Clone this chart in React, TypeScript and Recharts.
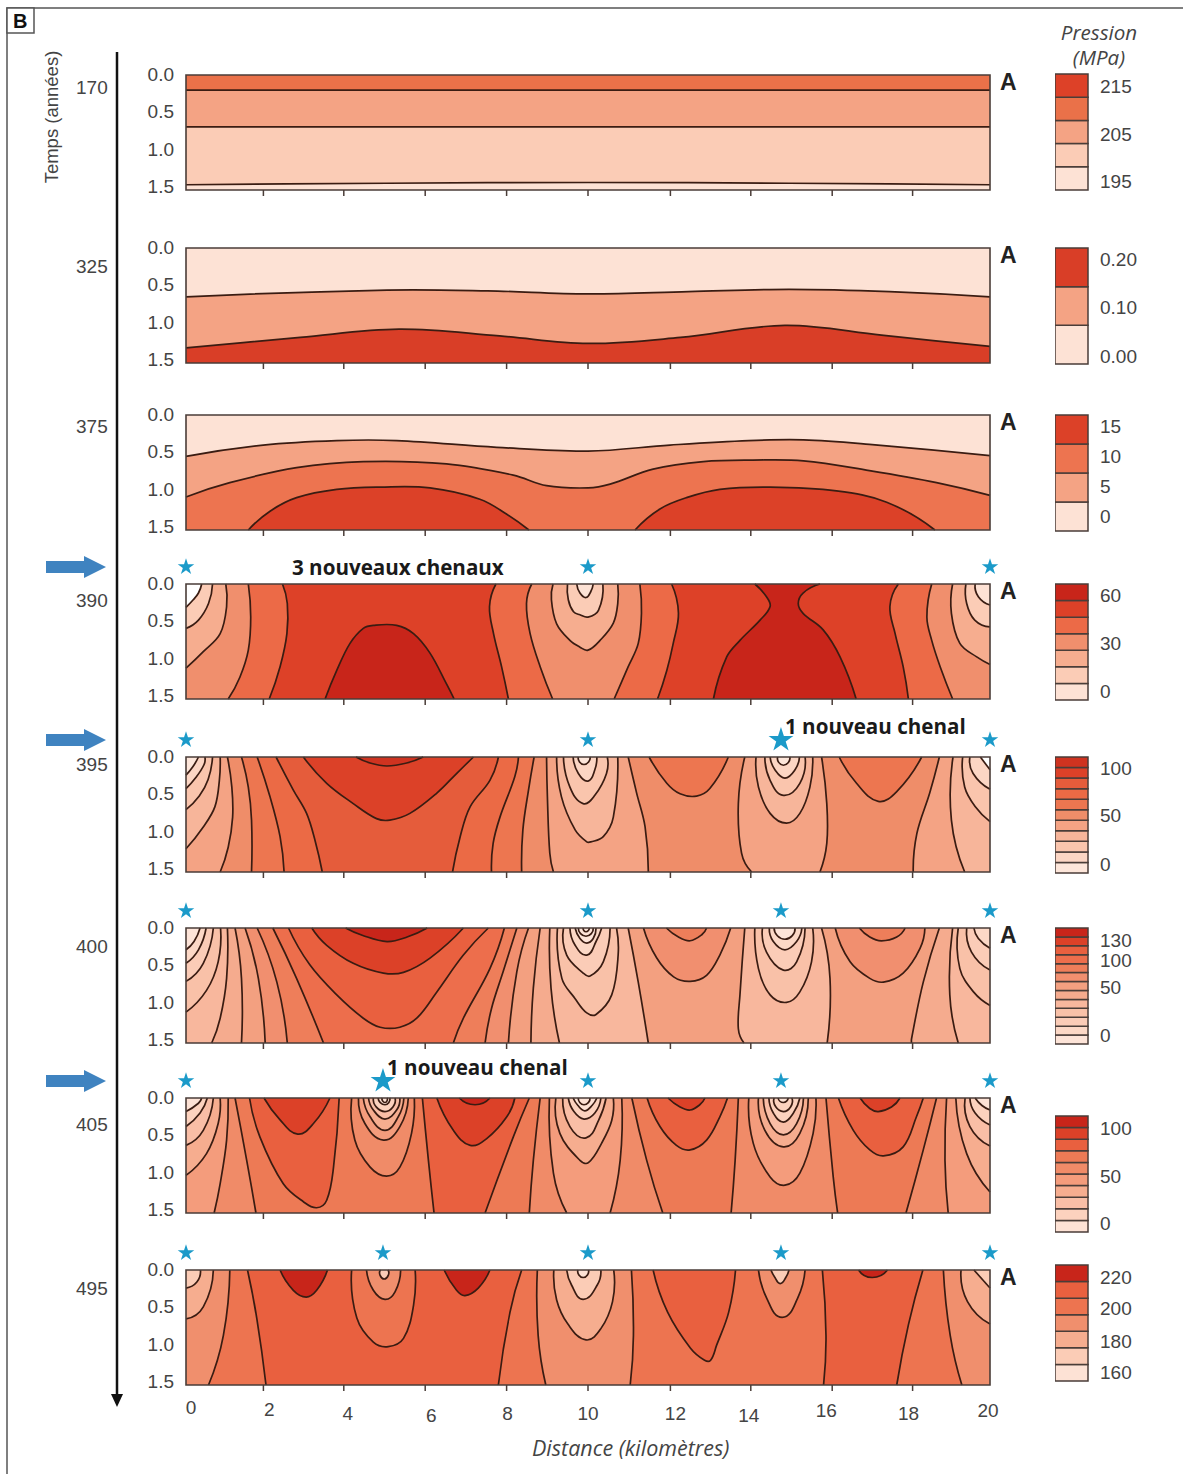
import { Bar, BarChart, Scatter, ScatterChart, Symbols, XAxis, YAxis } from 'recharts'

type Side = 'U' | 'R' | 'B' | 'TL' | 'TR'
type Contour = [Side, number, number[][]]

// side: U = closes straight on itself, R = everything right of a top-to-bottom line,
// B = everything below a left-to-right line, TL / TR = top corners
const YMAX = 1.53
const KM_TICKS = [2, 4, 6, 8, 10, 12, 14, 16, 18]
const KM_LABELS = [0, 2, 4, 6, 8, 10, 12, 14, 16, 18, 20]
const DEPTH_TICKS = [0, 0.5, 1, 1.5]
const YEARS = ['170', '325', '375', '390', '395', '400', '405', '495']

const P1_COLORS = ['#fde2d5', '#fbccb6', '#f4a384', '#ea7149', '#dd4128']
const P1_LEGEND = ['195', '205', '215']
const P1_LEGEND_AT = [0.34, 2.37, 4.44]
const P1_BASE = 3
const P1_CONTOURS: Contour[] = [
  ['B', 2, [[0, 0.2], [20, 0.2]]],
  ['B', 1, [[0, 0.69], [20, 0.69]]],
  ['B', 0, [[0, 1.46], [5, 1.44], [10, 1.43], [15, 1.44], [20, 1.46]]],
]

const P2_COLORS = ['#fde2d5', '#f4a384', '#d93e27']
const P2_LEGEND = ['0.00', '0.10', '0.20']
const P2_LEGEND_AT = [0.18, 1.45, 2.68]
const P2_BASE = 0
const P2_CONTOURS: Contour[] = [
  ['B', 1, [[0, 0.65], [5, 0.56], [7.5, 0.57], [10, 0.61], [12.5, 0.58], [15, 0.55], [17.5, 0.58], [20, 0.65]]],
  ['B', 2, [[0, 1.33], [2.84, 1.19], [5.3, 1.08], [7.8, 1.17], [10, 1.27], [12.3, 1.19], [14.9, 1.03], [17.3, 1.16], [20, 1.31]]],
]

const P3_COLORS = ['#fde2d5', '#f4a384', '#ed7450', '#dc4128']
const P3_LEGEND = ['0', '5', '10', '15']
const P3_LEGEND_AT = [0.49, 1.5, 2.54, 3.58]
const P3_BASE = 0
const P3_CONTOURS: Contour[] = [
  ['B', 1, [[0, 0.55], [1.92, 0.4], [3.75, 0.34], [5.24, 0.34], [7.73, 0.43], [10, 0.48], [12.04, 0.4], [14, 0.34], [15.36, 0.33], [17, 0.39], [20, 0.54]]],
  ['B', 2, [[0, 1.09], [1.09, 0.9], [2.75, 0.7], [4.41, 0.62], [6.48, 0.65], [8.14, 0.8], [8.97, 0.94], [10, 0.97], [10.55, 0.92], [11.62, 0.72], [12.87, 0.62], [14.1, 0.6], [15.36, 0.61], [17, 0.74], [18.67, 0.9], [20, 1.07]]],
  ['U', 3, [[1.55, 1.53], [2.09, 1.28], [2.75, 1.1], [3.75, 0.99], [4.83, 0.96], [6.07, 0.97], [7.31, 1.12], [7.98, 1.32], [8.53, 1.53]]],
  ['U', 3, [[11.17, 1.53], [11.79, 1.25], [12.45, 1.1], [13.28, 0.99], [14.53, 0.96], [16.18, 1.01], [17.43, 1.16], [18.63, 1.53]]],
]

const P4_COLORS = ['#fde2d5', '#fbccb6', '#f6ad8f', '#f08f6d', '#ec6a47', '#dd4128', '#c8251a']
const P4_LEGEND = ['0', '30', '60']
const P4_LEGEND_AT = [0.49, 3.35, 6.27]
const P4_BASE = 3
const P4_WELLS = [0, 10, 20]
const P4_CONTOURS: Contour[] = [
  ['R', 4, [[1.55, 0], [1.61, 0.44], [1.55, 0.88], [1.34, 1.24], [1.05, 1.53]]],
  ['R', 5, [[2.4, 0], [2.52, 0.26], [2.51, 0.66], [2.34, 1.1], [2.07, 1.53]]],
  ['U', 6, [[3.46, 1.53], [3.75, 1.15], [4.08, 0.79], [4.41, 0.59], [4.66, 0.55], [5.24, 0.55], [5.66, 0.66], [6.07, 0.92], [6.48, 1.33], [6.67, 1.53]]],
  ['R', 4, [[7.71, 0], [7.55, 0.3], [7.65, 0.66], [7.85, 1.1], [8.02, 1.53]]],
  ['R', 3, [[8.6, 0], [8.47, 0.26], [8.56, 0.66], [8.81, 1.1], [9.12, 1.53]]],
  ['U', 2, [[9.13, 0], [9.09, 0.21], [9.22, 0.53], [9.55, 0.75], [9.8, 0.84], [10, 0.88], [10.3, 0.75], [10.63, 0.52], [10.74, 0.26], [10.74, 0]]],
  ['U', 1, [[9.49, 0], [9.51, 0.21], [9.64, 0.37], [9.8, 0.41], [10, 0.44], [10.26, 0.35], [10.37, 0]]],
  ['U', 0, [[9.72, 0], [9.8, 0.12], [9.95, 0.18], [10.07, 0.1], [10.13, 0]]],
  ['R', 4, [[11.29, 0], [11.33, 0.39], [11.25, 0.79], [11, 1.1], [10.65, 1.53]]],
  ['R', 5, [[12.08, 0], [12.25, 0.39], [12.12, 0.79], [11.96, 1.15], [11.73, 1.53]]],
  ['R', 6, [[14.15, 0], [14.44, 0.17], [14.53, 0.3], [14.28, 0.48], [13.78, 0.75], [13.45, 0.97], [13.12, 1.53]]],
  ['R', 5, [[15.77, 0], [15.35, 0.12], [15.23, 0.26], [15.35, 0.39], [15.85, 0.61], [16.27, 0.97], [16.67, 1.53]]],
  ['R', 4, [[17.72, 0], [17.51, 0.3], [17.64, 0.66], [17.84, 1.1], [17.97, 1.53]]],
  ['R', 3, [[18.55, 0], [18.43, 0.44], [18.55, 0.75], [18.76, 1.1], [19.07, 1.53]]],
  ['TR', 2, [[19.07, 0], [19.04, 0.39], [19.25, 0.79], [19.67, 0.97], [20, 1.07]]],
  ['TR', 1, [[19.4, 0], [19.42, 0.26], [19.62, 0.48], [20, 0.57]]],
  ['TR', 0, [[19.63, 0], [19.71, 0.17], [20, 0.28]]],
  ['TL', 2, [[0, 1.12], [0.43, 0.9], [0.85, 0.66], [1.01, 0.3], [0.99, 0]]],
  ['TL', 1, [[0, 0.59], [0.31, 0.48], [0.56, 0.26], [0.66, 0]]],
  ['TL', -1, [[0, 0.31], [0.18, 0.21], [0.31, 0.12], [0.39, 0]]],
]

const P5_COLORS = ['#fde6da', '#fcd6c4', '#fac5ad', '#f7b59a', '#f4a384', '#ef8d69', '#ed7650', '#eb6a45', '#e55c3b', '#dc4128', '#cf3320']
const P5_LEGEND = ['0', '50', '100']
const P5_LEGEND_AT = [0.77, 5.36, 9.86]
const P5_BASE = 4
const P5_WELLS = [0, 10, 20]
const P5_NEW_WELLS = [14.8]
const P5_CONTOURS: Contour[] = [
  ['R', 5, [[1.03, 0], [1.14, 0.4], [1.16, 0.8], [1.05, 1.2], [0.85, 1.53]]],
  ['R', 6, [[1.38, 0], [1.55, 0.4], [1.63, 0.84], [1.63, 1.53]]],
  ['R', 7, [[1.77, 0], [2.09, 0.53], [2.34, 1.06], [2.44, 1.53]]],
  ['R', 8, [[2.24, 0], [2.67, 0.44], [3, 0.75], [3.21, 1.11], [3.39, 1.53]]],
  ['U', 9, [[2.92, 0], [3.5, 0.35], [4.16, 0.62], [4.74, 0.82], [5.07, 0.84], [5.57, 0.75], [6.24, 0.48], [6.73, 0.22], [7.15, 0]]],
  ['U', 10, [[4.23, 0], [4.58, 0.08], [5, 0.12], [5.49, 0.08], [5.9, 0]]],
  ['R', 7, [[7.77, 0], [7.56, 0.31], [7.07, 0.66], [6.82, 1.06], [6.63, 1.53]]],
  ['R', 6, [[8.27, 0], [8.18, 0.26], [7.81, 0.8], [7.64, 1.15], [7.6, 1.53]]],
  ['R', 5, [[8.66, 0], [8.52, 0.44], [8.38, 0.97], [8.35, 1.53]]],
  ['R', 4, [[8.97, 0], [8.99, 0.53], [9.05, 1.28], [9.14, 1.53]]],
  ['U', 3, [[9.22, 0], [9.34, 0.53], [9.68, 0.97], [9.97, 1.13], [10.07, 1.13], [10.38, 1.06], [10.63, 0.8], [10.74, 0]]],
  ['U', 2, [[9.39, 0], [9.55, 0.4], [9.88, 0.62], [10.17, 0.51], [10.46, 0.22], [10.48, 0]]],
  ['U', 1, [[9.63, 0], [9.76, 0.22], [10, 0.32], [10.17, 0.17], [10.22, 0]]],
  ['U', 0, [[9.76, 0], [9.9, 0.1], [10.05, 0]]],
  ['R', 5, [[11, 0], [11.21, 0.48], [11.42, 0.93], [11.5, 1.53]]],
  ['U', 6, [[11.52, 0], [11.96, 0.35], [12.29, 0.49], [12.7, 0.52], [13.03, 0.42], [13.49, 0]]],
  ['R', 4, [[13.9, 0], [13.74, 0.62], [13.82, 1.28], [14.07, 1.53]]],
  ['U', 3, [[14.18, 0], [14.24, 0.4], [14.53, 0.75], [14.94, 0.88], [15.27, 0.75], [15.52, 0.4], [15.59, 0]]],
  ['U', 2, [[14.4, 0], [14.53, 0.31], [14.86, 0.51], [15.27, 0.35], [15.4, 0]]],
  ['U', 1, [[14.53, 0], [14.65, 0.17], [14.9, 0.28], [15.15, 0.17], [15.26, 0]]],
  ['U', 0, [[14.72, 0], [14.86, 0.11], [15.02, 0]]],
  ['R', 5, [[15.81, 0], [15.94, 0.62], [15.94, 1.15], [15.77, 1.53]]],
  ['U', 6, [[16.25, 0], [16.68, 0.35], [17.22, 0.59], [17.68, 0.46], [18.3, 0]]],
  ['R', 4, [[18.74, 0], [18.5, 0.48], [18.18, 1.02], [18.09, 1.53]]],
  ['R', 3, [[19.08, 0], [19.04, 0.84], [19.37, 1.53]]],
  ['TR', 2, [[19.32, 0], [19.37, 0.4], [19.63, 0.66], [20, 0.86]]],
  ['TR', 1, [[19.5, 0], [19.58, 0.22], [20, 0.43]]],
  ['TR', -1, [[19.76, 0], [20, 0.17]]],
  ['TL', 3, [[0, 1.22], [0.43, 0.93], [0.72, 0.66], [0.83, 0.31], [0.85, 0]]],
  ['TL', 2, [[0, 0.7], [0.33, 0.52], [0.55, 0.3], [0.66, 0]]],
  ['TL', 1, [[0, 0.42], [0.25, 0.27], [0.45, 0.1], [0.47, 0]]],
  ['TL', 0, [[0, 0.24], [0.17, 0.13], [0.31, 0]]],
]

const P6_COLORS = ['#fde4d8', '#fcd8c6', '#fbccb7', '#f9c1a8', '#f8b79d', '#f5ab8e', '#f3a080', '#f18f6f', '#ee7e5a', '#ed6e4c', '#e9603f', '#dc4128', '#c8251a']
const P6_LEGEND = ['0', '50', '100', '130']
const P6_LEGEND_AT = [0.9, 6.2, 9.24, 11.5]
const P6_BASE = 4
const P6_WELLS = [0, 10, 14.8, 20]
const P6_CONTOURS: Contour[] = [
  ['R', 5, [[1.03, 0], [1.01, 0.67], [0.85, 1.2], [0.64, 1.53]]],
  ['R', 6, [[1.22, 0], [1.38, 0.67], [1.38, 1.53]]],
  ['R', 7, [[1.47, 0], [1.8, 0.67], [1.97, 1.53]]],
  ['R', 8, [[1.77, 0], [2.26, 0.72], [2.52, 1.53]]],
  ['R', 9, [[2.16, 0], [2.75, 0.67], [3.42, 1.53]]],
  ['U', 10, [[2.55, 0], [3.08, 0.49], [3.75, 0.89], [4.41, 1.2], [4.83, 1.32], [5.32, 1.32], [5.74, 1.2], [6.24, 0.85], [6.9, 0.36], [7.52, 0]]],
  ['U', 11, [[3.13, 0], [3.5, 0.23], [4.16, 0.47], [4.91, 0.6], [5.41, 0.59], [6.07, 0.4], [6.9, 0]]],
  ['U', 12, [[3.97, 0], [4.4, 0.1], [5, 0.18], [5.5, 0.12], [6, 0]]],
  ['R', 8, [[7.92, 0], [7.56, 0.54], [6.9, 1.2], [6.65, 1.53]]],
  ['R', 7, [[8.23, 0], [7.89, 0.58], [7.6, 1.07], [7.44, 1.53]]],
  ['R', 6, [[8.52, 0], [8.23, 0.58], [8.02, 1.53]]],
  ['R', 5, [[8.81, 0], [8.64, 0.8], [8.58, 1.53]]],
  ['R', 4, [[9.05, 0], [9.08, 0.8], [9.29, 1.53]]],
  ['U', 3, [[9.24, 0], [9.35, 0.67], [9.68, 0.94], [9.97, 1.13], [10.2, 1.15], [10.59, 0.89], [10.75, 0.36], [10.71, 0]]],
  ['U', 2, [[9.39, 0], [9.47, 0.36], [9.88, 0.6], [10.05, 0.64], [10.38, 0.45], [10.55, 0]]],
  ['U', 1, [[9.55, 0], [9.68, 0.23], [9.97, 0.36], [10.2, 0.18], [10.34, 0]]],
  ['U', 0, [[9.68, 0], [9.8, 0.14], [9.97, 0.2], [10.13, 0.14], [10.2, 0]]],
  ['U', 0, [[9.76, 0], [9.95, 0.11], [10.13, 0]]],
  ['U', 0, [[9.88, 0], [9.95, 0.05], [10.03, 0]]],
  ['R', 6, [[11, 0], [11.25, 0.72], [11.5, 1.53]]],
  ['U', 7, [[11.38, 0], [11.71, 0.4], [12.13, 0.65], [12.54, 0.71], [12.95, 0.63], [13.28, 0.36], [13.55, 0]]],
  ['U', 8, [[11.95, 0], [12.25, 0.12], [12.54, 0.17], [12.83, 0.09], [12.95, 0]]],
  ['R', 4, [[13.9, 0], [13.78, 0.89], [13.74, 1.34], [13.88, 1.53]]],
  ['U', 3, [[14.15, 0], [14.24, 0.54], [14.53, 0.89], [14.94, 0.99], [15.27, 0.85], [15.56, 0.45], [15.59, 0]]],
  ['U', 2, [[14.34, 0], [14.44, 0.32], [14.86, 0.56], [15.19, 0.45], [15.4, 0]]],
  ['U', 1, [[14.51, 0], [14.61, 0.18], [14.9, 0.29], [15.19, 0.18], [15.32, 0]]],
  ['U', 0, [[14.63, 0], [14.9, 0.15], [15.15, 0]]],
  ['R', 6, [[15.81, 0], [16.02, 0.67], [15.95, 1.53]]],
  ['U', 7, [[16.15, 0], [16.52, 0.45], [17.01, 0.67], [17.35, 0.72], [17.84, 0.6], [18.26, 0.27], [18.38, 0]]],
  ['U', 8, [[16.75, 0], [17.01, 0.12], [17.3, 0.17], [17.68, 0.12], [17.89, 0]]],
  ['R', 5, [[18.74, 0], [18.34, 0.72], [18.05, 1.47], [18.05, 1.53]]],
  ['R', 4, [[19.07, 0], [19, 0.89], [19.21, 1.53]]],
  ['TR', 3, [[19.21, 0], [19.25, 0.54], [19.59, 0.85], [20, 1.03]]],
  ['TR', 2, [[19.42, 0], [19.54, 0.32], [20, 0.56]]],
  ['TR', 1, [[19.6, 0], [19.71, 0.14], [20, 0.27]]],
  ['TL', 3, [[0, 1.12], [0.51, 0.83], [0.8, 0.45], [0.86, 0]]],
  ['TL', 2, [[0, 0.71], [0.43, 0.47], [0.68, 0]]],
  ['TL', 1, [[0, 0.47], [0.31, 0.29], [0.5, 0]]],
  ['TL', 0, [[0, 0.29], [0.2, 0.18], [0.35, 0]]],
]

const P7_COLORS = ['#fde2d5', '#fcd2be', '#f9bea6', '#f6ad8f', '#f49c7c', '#f08b68', '#ed7a55', '#e9603f', '#dc4128', '#c8251a']
const P7_LEGEND = ['0', '50', '100']
const P7_LEGEND_AT = [0.69, 4.74, 8.9]
const P7_BASE = 4
const P7_WELLS = [0, 10, 14.8, 20]
const P7_NEW_WELLS = [4.9]
const P7_CONTOURS: Contour[] = [
  ['R', 5, [[1.05, 0], [1.01, 0.56], [0.85, 1.14], [0.7, 1.53]]],
  ['R', 6, [[1.22, 0], [1.51, 0.83], [1.74, 1.53]]],
  ['U', 7, [[1.58, 0], [1.84, 0.52], [2.42, 1.14], [2.92, 1.38], [3.25, 1.46], [3.5, 1.36], [3.67, 0.92], [3.81, 0]]],
  ['U', 8, [[1.94, 0], [2.34, 0.29], [2.78, 0.48], [3.17, 0.34], [3.58, 0]]],
  ['U', 5, [[4.12, 0], [4.2, 0.56], [4.58, 0.92], [4.99, 1.04], [5.32, 0.92], [5.61, 0.47], [5.68, 0]]],
  ['U', 4, [[4.29, 0], [4.45, 0.34], [4.91, 0.56], [5.32, 0.38], [5.53, 0]]],
  ['U', 3, [[4.41, 0], [4.58, 0.25], [4.95, 0.43], [5.28, 0.25], [5.42, 0]]],
  ['U', 2, [[4.54, 0], [4.66, 0.16], [4.95, 0.28], [5.24, 0.16], [5.32, 0]]],
  ['U', 1, [[4.66, 0], [4.95, 0.18], [5.2, 0]]],
  ['U', 0, [[4.78, 0], [4.95, 0.09], [5.07, 0]]],
  ['U', 0, [[4.88, 0], [4.95, 0.06], [5, 0]]],
  ['R', 7, [[5.88, 0], [6.03, 0.83], [6.17, 1.53]]],
  ['U', 8, [[6.24, 0], [6.65, 0.43], [7.07, 0.63], [7.48, 0.54], [7.98, 0.25], [8.18, 0]]],
  ['U', 9, [[6.8, 0], [7.19, 0.09], [7.56, 0]]],
  ['R', 6, [[8.54, 0], [8.14, 0.52], [7.44, 1.53]]],
  ['R', 5, [[8.81, 0], [8.64, 0.83], [8.54, 1.53]]],
  ['R', 4, [[9.04, 0], [9.14, 1], [9.47, 1.53]]],
  ['U', 3, [[9.2, 0], [9.3, 0.47], [9.8, 0.83], [10.01, 0.86], [10.34, 0.6], [10.59, 0.3], [10.63, 0]]],
  ['U', 2, [[9.37, 0], [9.55, 0.38], [9.95, 0.53], [10.26, 0.3], [10.45, 0]]],
  ['U', 1, [[9.51, 0], [9.65, 0.18], [9.9, 0.28], [10.17, 0.2], [10.32, 0]]],
  ['U', 0, [[9.63, 0], [9.75, 0.1], [9.92, 0.17], [10.1, 0.1], [10.22, 0]]],
  ['U', 0, [[9.76, 0], [9.9, 0.09], [10.05, 0]]],
  ['R', 5, [[10.84, 0], [10.8, 0.83], [10.55, 1.53]]],
  ['R', 6, [[11.09, 0], [11.46, 0.83], [11.86, 1.53]]],
  ['U', 7, [[11.47, 0], [11.79, 0.38], [12.2, 0.63], [12.54, 0.69], [12.95, 0.56], [13.28, 0.25], [13.47, 0]]],
  ['U', 8, [[11.99, 0], [12.29, 0.12], [12.54, 0.16], [12.78, 0.09], [12.91, 0]]],
  ['R', 5, [[13.74, 0], [13.66, 0.83], [13.56, 1.53]]],
  ['U', 4, [[14, 0], [14.11, 0.6], [14.53, 1.05], [14.9, 1.16], [15.27, 1], [15.6, 0.47], [15.67, 0]]],
  ['U', 3, [[14.24, 0], [14.4, 0.43], [14.86, 0.65], [15.27, 0.47], [15.48, 0]]],
  ['U', 2, [[14.36, 0], [14.53, 0.34], [14.86, 0.49], [15.19, 0.34], [15.36, 0]]],
  ['U', 1, [[14.5, 0], [14.61, 0.2], [14.86, 0.32], [15.11, 0.2], [15.27, 0]]],
  ['U', 1, [[14.63, 0], [14.86, 0.18], [15.07, 0]]],
  ['U', 0, [[14.73, 0], [14.86, 0.06], [14.98, 0]]],
  ['R', 6, [[15.92, 0], [16.1, 1.05], [16.21, 1.53]]],
  ['U', 7, [[16.23, 0], [16.6, 0.43], [17.01, 0.69], [17.35, 0.77], [17.84, 0.65], [18.17, 0.25], [18.34, 0]]],
  ['U', 8, [[16.77, 0], [17.01, 0.14], [17.22, 0.18], [17.55, 0.12], [17.76, 0]]],
  ['R', 5, [[18.67, 0], [18.34, 0.69], [17.91, 1.53]]],
  ['R', 4, [[18.92, 0], [18.88, 0.83], [18.96, 1.53]]],
  ['TR', 3, [[19.15, 0], [19.42, 0.74], [20, 1.25]]],
  ['TR', 2, [[19.38, 0], [19.5, 0.38], [20, 0.64]]],
  ['TR', 1, [[19.5, 0], [19.63, 0.2], [20, 0.36]]],
  ['TR', 0, [[19.63, 0], [19.8, 0.1], [20, 0.16]]],
  ['TL', 3, [[0, 1.03], [0.51, 0.74], [0.8, 0.34], [0.85, 0]]],
  ['TL', 2, [[0, 0.63], [0.43, 0.43], [0.68, 0]]],
  ['TL', 1, [[0, 0.38], [0.35, 0.2], [0.53, 0]]],
  ['TL', 0, [[0, 0.18], [0.31, 0.07], [0.39, 0]]],
]

const P8_COLORS = ['#fde2d5', '#fbccb6', '#f6ad8f', '#f08f6d', '#ed7450', '#e9603f', '#c8251a']
const P8_LEGEND = ['160', '180', '200', '220']
const P8_LEGEND_AT = [0.48, 2.35, 4.34, 6.2]
const P8_BASE = 3
const P8_WELLS = [0, 4.9, 10, 14.8, 20]
const P8_CONTOURS: Contour[] = [
  ['R', 4, [[1.09, 0], [0.93, 0.87], [0.56, 1.53]]],
  ['R', 5, [[1.53, 0], [1.76, 0.64], [1.99, 1.53]]],
  ['U', 6, [[2.34, 0], [2.67, 0.27], [2.99, 0.36], [3.25, 0.27], [3.52, 0]]],
  ['U', 4, [[4.12, 0], [4.25, 0.64], [4.66, 0.96], [5.03, 1.02], [5.41, 0.91], [5.66, 0.47], [5.7, 0]]],
  ['U', 3, [[4.49, 0], [4.66, 0.27], [4.95, 0.39], [5.2, 0.29], [5.34, 0]]],
  ['U', 1, [[4.84, 0], [4.93, 0.12], [5.02, 0]]],
  ['U', 6, [[6.42, 0], [6.73, 0.27], [6.94, 0.34], [7.27, 0.24], [7.56, 0]]],
  ['R', 4, [[8.35, 0], [8.06, 0.56], [7.77, 1.53]]],
  ['R', 3, [[8.74, 0], [8.76, 0.87], [8.95, 1.53]]],
  ['U', 2, [[9.15, 0], [9.22, 0.4], [9.5, 0.72], [9.95, 0.93], [10.32, 0.78], [10.61, 0.42], [10.64, 0]]],
  ['U', 1, [[9.47, 0], [9.59, 0.2], [9.88, 0.39], [10.23, 0.2], [10.32, 0]]],
  ['U', 0, [[9.75, 0], [9.88, 0.1], [10.01, 0]]],
  ['R', 4, [[11.08, 0], [11.13, 0.87], [11.05, 1.53]]],
  ['U', 5, [[11.62, 0], [11.98, 0.56], [12.55, 1.04], [12.9, 1.2], [13.05, 1.2], [13.2, 1], [13.5, 0.56], [13.67, 0]]],
  ['U', 3, [[14.24, 0], [14.45, 0.38], [14.83, 0.63], [15.21, 0.38], [15.4, 0]]],
  ['U', 1, [[14.55, 0], [14.65, 0.1], [14.78, 0.18], [14.92, 0.1], [15, 0]]],
  ['R', 5, [[15.83, 0], [15.92, 0.87], [15.86, 1.53]]],
  ['U', 6, [[16.73, 0], [17.07, 0.1], [17.45, 0]]],
  ['R', 4, [[18.33, 0], [17.97, 0.73], [17.68, 1.53]]],
  ['R', 3, [[18.84, 0], [19.01, 0.87], [19.3, 1.53]]],
  ['TR', 2, [[19.28, 0], [19.44, 0.42], [20, 0.72]]],
  ['TR', 1, [[19.6, 0], [20, 0.24]]],
  ['TL', 2, [[0, 0.65], [0.43, 0.49], [0.68, 0]]],
  ['TL', 1, [[0, 0.24], [0.27, 0.16], [0.36, 0]]],
]

// layout only, px on the page
const PANEL_TOPS = [75, 248, 415, 584, 757, 928, 1098, 1270]
const YEAR_Y = [87, 266, 426, 600, 764, 946, 1124, 1288]
const LEGEND_TOPS = [74, 248, 415, 584, 757, 928, 1116, 1265]
const ARROW_Y = [567, 740, 1081]
const TICK_NUDGE = [-3, -3, -2, -1, 0, 2, 2, 3, 3]
const LABEL_DX = [5, 3, 1, 4, 0, 0, 7, 0, -3, -1, -2]
const LABEL_DY = [22, 24, 28, 30, 28, 28, 28, 30, 25, 28, 25]

const PANELS = [
  { colors: P1_COLORS, base: P1_BASE, contours: P1_CONTOURS, legend: P1_LEGEND, legendAt: P1_LEGEND_AT, wells: [] as number[], newWells: [] as number[] },
  { colors: P2_COLORS, base: P2_BASE, contours: P2_CONTOURS, legend: P2_LEGEND, legendAt: P2_LEGEND_AT, wells: [], newWells: [] },
  { colors: P3_COLORS, base: P3_BASE, contours: P3_CONTOURS, legend: P3_LEGEND, legendAt: P3_LEGEND_AT, wells: [], newWells: [] },
  { colors: P4_COLORS, base: P4_BASE, contours: P4_CONTOURS, legend: P4_LEGEND, legendAt: P4_LEGEND_AT, wells: P4_WELLS, newWells: [] },
  { colors: P5_COLORS, base: P5_BASE, contours: P5_CONTOURS, legend: P5_LEGEND, legendAt: P5_LEGEND_AT, wells: P5_WELLS, newWells: P5_NEW_WELLS },
  { colors: P6_COLORS, base: P6_BASE, contours: P6_CONTOURS, legend: P6_LEGEND, legendAt: P6_LEGEND_AT, wells: P6_WELLS, newWells: [] },
  { colors: P7_COLORS, base: P7_BASE, contours: P7_CONTOURS, legend: P7_LEGEND, legendAt: P7_LEGEND_AT, wells: P7_WELLS, newWells: P7_NEW_WELLS },
  { colors: P8_COLORS, base: P8_BASE, contours: P8_CONTOURS, legend: P8_LEGEND, legendAt: P8_LEGEND_AT, wells: P8_WELLS, newWells: [] },
]

const SANS = '"Liberation Sans", Arial, sans-serif'
const TITLE = '"Open Sans", sans-serif'
const INK = '#444'
const LINE = '#3a1c12'
const FRAME = '#4a3d38'
const STAR = '#1b9ac9'
const BLUE = '#3f83c0'

const CLOSURE: Record<Side, number[][]> = {
  U: [],
  R: [[20, YMAX], [20, 0]],
  B: [[20, YMAX], [0, YMAX]],
  TL: [[0, 0]],
  TR: [[20, 0]],
}

const toXY = (pts: number[][]) => pts.map(([x, y]) => ({ x, y }))

type Pt = { x: number; y: number }
const unit = (a: Pt, b: Pt) => {
  const dx = b.x - a.x
  const dy = b.y - a.y
  const len = Math.hypot(dx, dy) || 1
  return { x: dx / len, y: dy / len }
}

// spline through the scaled points: handles follow the neighbours' direction,
// sized by each segment's own length, so uneven spacing does not kink the line
function smooth(pts: Pt[]) {
  const n = pts.length
  let d = `M${pts[0].x},${pts[0].y}`
  if (n === 2) return d + `L${pts[1].x},${pts[1].y}`
  const dirs: Pt[] = pts.map((_, i) => (i > 0 && i < n - 1 ? unit(pts[i - 1], pts[i + 1]) : { x: 0, y: 0 }))
  // ends: mirror the next tangent about the chord
  const reflect = (t: Pt, c: Pt) => {
    const dot = t.x * c.x + t.y * c.y
    return { x: 2 * dot * c.x - t.x, y: 2 * dot * c.y - t.y }
  }
  dirs[0] = reflect(dirs[1], unit(pts[0], pts[1]))
  dirs[n - 1] = reflect(dirs[n - 2], unit(pts[n - 2], pts[n - 1]))
  for (let i = 0; i < n - 1; i++) {
    const a = pts[i]
    const b = pts[i + 1]
    const h = Math.hypot(b.x - a.x, b.y - a.y) * 0.36
    d += `C${a.x + dirs[i].x * h},${a.y + dirs[i].y * h} ${b.x - dirs[i + 1].x * h},${b.y - dirs[i + 1].y * h} ${b.x},${b.y}`
  }
  return d
}

const NoDot = () => <g />

function contourLine(n: number, fill: string, stroked: boolean) {
  return (props: any) => {
    const curve = props.points.slice(0, n)
    const tail = props.points.slice(n).map((p: any) => `L${p.x},${p.y}`).join('')
    const d = smooth(curve)
    return (
      <g>
        <path d={d + tail + 'Z'} fill={fill} stroke="none" />
        {stroked && <path d={d} fill="none" stroke={LINE} strokeWidth={1.7} />}
      </g>
    )
  }
}

const frameLine = (props: any) => (
  <path
    d={props.points.map((p: any, i: number) => `${i ? 'L' : 'M'}${p.x},${p.y}`).join('') + 'Z'}
    fill="none"
    stroke={FRAME}
    strokeWidth={1.6}
  />
)

const Mark = ({ x, y, dir }: any) => <line x1={x} x2={x} y1={y} y2={y + dir * 6} stroke={FRAME} strokeWidth={1.5} />

function TopTick({ x, y, index }: any) {
  return <Mark x={x + TICK_NUDGE[index]} y={y} dir={-1} />
}
function BottomTick({ x, y, index }: any) {
  return <Mark x={x + TICK_NUDGE[index]} y={y} dir={1} />
}
function LabelTick({ x, y, index, payload }: any) {
  const inner = index > 0 && index < KM_LABELS.length - 1
  return (
    <g>
      {inner && <Mark x={x + TICK_NUDGE[index - 1]} y={y} dir={1} />}
      <text
        x={x + LABEL_DX[index]}
        y={y + LABEL_DY[index]}
        textAnchor="middle"
        dominantBaseline="central"
        fontSize={19}
        fontFamily={SANS}
        fill={INK}
      >
        {payload.value}
      </text>
    </g>
  )
}

function Panel({ index }: { index: number }) {
  const { colors, base, contours } = PANELS[index]
  const last = index === PANELS.length - 1
  const bottom = last ? 50 : 10
  const layers: Contour[] = [['B', base, [[0, 0], [20, 0]]], ...contours]
  return (
    <div style={{ position: 'absolute', left: 130, top: PANEL_TOPS[index] - 10 }}>
      <ScatterChart width={870} height={115 + 10 + bottom} margin={{ top: 0, right: 10, bottom: 0, left: 0 }}>
        <XAxis
          dataKey="x"
          type="number"
          domain={[0, 20]}
          ticks={last ? KM_LABELS : KM_TICKS}
          interval={0}
          height={bottom}
          axisLine={false}
          tickLine={false}
          tickSize={0}
          tickMargin={0}
          tick={last ? LabelTick : BottomTick}
        />
        <XAxis
          xAxisId="top"
          orientation="top"
          dataKey="x"
          type="number"
          domain={[0, 20]}
          ticks={KM_TICKS}
          interval={0}
          height={10}
          axisLine={false}
          tickLine={false}
          tickSize={0}
          tickMargin={0}
          tick={TopTick}
        />
        <YAxis
          dataKey="y"
          type="number"
          reversed
          domain={[0, YMAX]}
          ticks={DEPTH_TICKS}
          interval={0}
          width={56}
          axisLine={false}
          tickLine={false}
          tickSize={0}
          tickMargin={12}
          tickFormatter={(v: number) => v.toFixed(1)}
          tick={{ fontSize: 19, fontFamily: SANS, fill: INK, dy: -1 }}
        />
        {layers.map(([side, level, pts], i) => (
          <Scatter
            key={i}
            data={toXY([...pts, ...CLOSURE[side]])}
            line={contourLine(pts.length, colors[level] ?? '#ffffff', i > 0)}
            lineType="joint"
            shape={NoDot}
            isAnimationActive={false}
          />
        ))}
        <Scatter
          data={toXY([[0, 0], [20, 0], [20, YMAX], [0, YMAX]])}
          line={frameLine}
          lineType="joint"
          shape={NoDot}
          isAnimationActive={false}
        />
      </ScatterChart>
    </div>
  )
}

const WellStar = ({ cx, cy, size }: any) => <Symbols cx={cx} cy={cy} type="star" size={size} fill={STAR} />

function WellRow({ index }: { index: number }) {
  const { wells, newWells } = PANELS[index]
  if (!wells.length) return null
  return (
    <div style={{ position: 'absolute', left: 130, top: PANEL_TOPS[index] - 34 }}>
      <ScatterChart width={870} height={34} margin={{ top: 0, right: 10, bottom: 0, left: 56 }}>
        <XAxis dataKey="x" type="number" domain={[0, 20]} hide />
        <YAxis dataKey="y" type="number" domain={[0, 1]} hide />
        <Scatter data={wells.map((x) => ({ x, y: 0.5 }))} shape={(p: any) => <WellStar {...p} size={85} />} isAnimationActive={false} />
        <Scatter data={newWells.map((x) => ({ x, y: 0.5 }))} shape={(p: any) => <WellStar {...p} size={190} />} isAnimationActive={false} />
      </ScatterChart>
    </div>
  )
}

function LegendBar({ index }: { index: number }) {
  const { colors, legend, legendAt } = PANELS[index]
  const row: Record<string, any> = { name: 'p' }
  colors.forEach((_, i) => {
    row['k' + i] = 1
  })
  return (
    <div style={{ position: 'absolute', left: 1055, top: LEGEND_TOPS[index] - 10 }}>
      <BarChart width={110} height={136} data={[row]} barCategoryGap={0} margin={{ top: 10, right: 0, bottom: 10, left: 0 }}>
        <XAxis dataKey="name" hide />
        <YAxis
          orientation="right"
          type="number"
          domain={[0, colors.length]}
          ticks={legendAt}
          interval={0}
          width={77}
          axisLine={false}
          tickLine={false}
          tickSize={0}
          tickMargin={12}
          tickFormatter={(v: number) => legend[legendAt.indexOf(v)]}
          tick={{ fontSize: 19, fontFamily: SANS, fill: INK, textAnchor: 'start', dy: -1 }}
        />
        {colors.map((c, i) => (
          <Bar key={i} dataKey={'k' + i} stackId="s" fill={c} stroke={FRAME} strokeWidth={1.5} isAnimationActive={false} />
        ))}
      </BarChart>
    </div>
  )
}

function Note({ x, y, text, style }: { x: number; y: number; text: string; style?: any }) {
  return (
    <div style={{ position: 'absolute', left: x, top: y, transform: 'translateY(-50%)', lineHeight: 1, whiteSpace: 'nowrap', color: INK, ...style }}>
      {text}
    </div>
  )
}

const BOLD_NOTE = { fontFamily: TITLE, fontWeight: 700, fontSize: 20.6, color: '#1a1a1a' }
const ITALIC_NOTE = { fontFamily: TITLE, fontStyle: 'italic', fontSize: 20.6 }

export default function App() {
  return (
    <div style={{ position: 'absolute', left: 0, top: 0, width: 1183, height: 1474, background: '#fff', overflow: 'hidden' }}>
      <svg width={1183} height={1474} style={{ position: 'absolute', left: 0, top: 0 }}>
        <path d="M7,1474V8H1183" fill="none" stroke="#555" strokeWidth={1.5} />
        <rect x={7} y={8} width={27} height={25} fill="#fff" stroke="#555" strokeWidth={1.5} />
        <line x1={117} x2={117} y1={52} y2={1396} stroke="#111" strokeWidth={2.5} />
        <polygon points="111,1394 123,1394 117,1407" fill="#111" />
        {ARROW_Y.map((y) => (
          <polygon key={y} points={`46,${y - 6} 84,${y - 6} 84,${y - 11} 106,${y} 84,${y + 11} 84,${y + 6} 46,${y + 6}`} fill={BLUE} />
        ))}
      </svg>

      <Note x={13} y={21} text="B" style={{ fontFamily: SANS, fontWeight: 700, fontSize: 20, color: '#111' }} />
      <div
        style={{
          position: 'absolute', left: 52, top: 117, transform: 'translate(-50%, -50%) rotate(-90deg)',
          whiteSpace: 'nowrap', fontFamily: SANS, fontSize: 18.5, color: INK,
        }}
      >
        Temps (années)
      </div>
      {YEARS.map((t, i) => (
        <Note key={t} x={76} y={YEAR_Y[i]} text={t} style={{ fontFamily: SANS, fontSize: 19 }} />
      ))}

      {PANELS.map((_, i) => (
        <Panel key={i} index={i} />
      ))}
      {PANELS.map((_, i) => (
        <WellRow key={i} index={i} />
      ))}
      {PANELS.map((_, i) => (
        <LegendBar key={i} index={i} />
      ))}
      {PANEL_TOPS.map((top) => (
        <Note key={top} x={1000} y={top + 7} text="A" style={{ fontFamily: SANS, fontWeight: 700, fontSize: 23, color: '#222' }} />
      ))}

      <div
        style={{
          position: 'absolute', left: 1049, top: 20, width: 100, textAlign: 'center', lineHeight: '25px',
          color: INK, ...ITALIC_NOTE,
        }}
      >
        Pression (MPa)
      </div>
      <Note x={292} y={567} text="3 nouveaux chenaux" style={BOLD_NOTE} />
      <Note x={785} y={726} text="1 nouveau chenal" style={BOLD_NOTE} />
      <Note x={387} y={1067} text="1 nouveau chenal" style={BOLD_NOTE} />
      <Note x={532} y={1448} text="Distance (kilomètres)" style={{ ...ITALIC_NOTE, fontSize: 21.5 }} />
    </div>
  )
}
